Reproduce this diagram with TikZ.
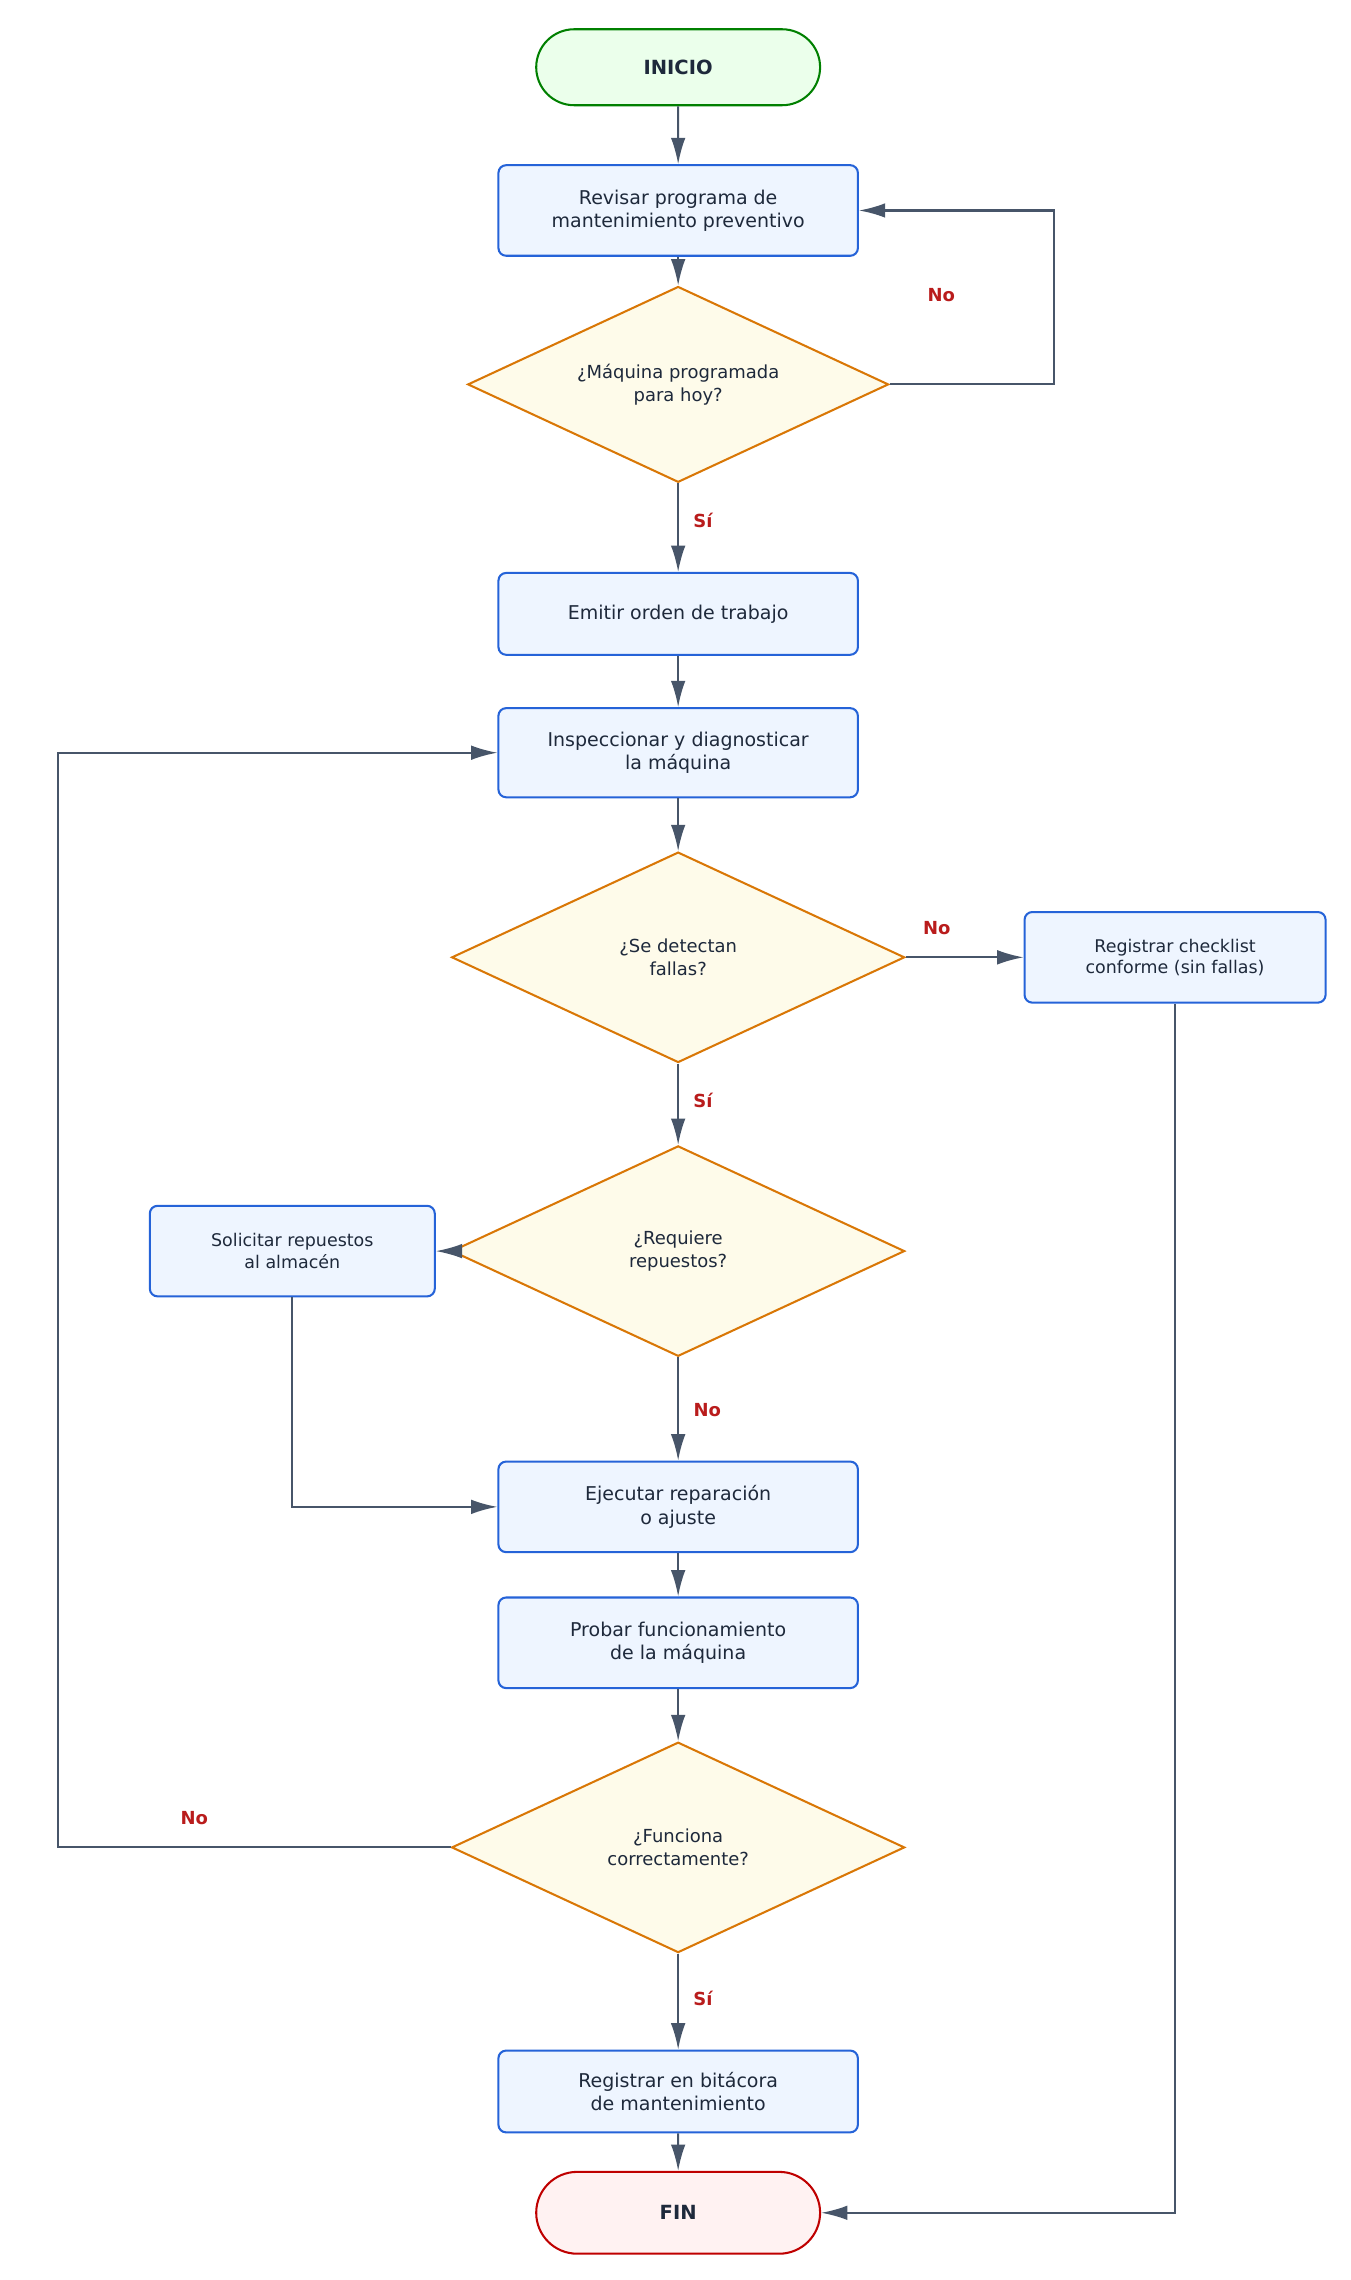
\documentclass[tikz,border=0pt]{standalone}
\usepackage{fontspec}
\setmainfont{DejaVu Sans}
\usepackage{xcolor}
\usetikzlibrary{shapes.geometric,arrows.meta}
\definecolor{boxfill}{HTML}{EEF5FF}
\definecolor{boxline}{HTML}{2563D8}
\definecolor{decfill}{HTML}{FEFBEA}
\definecolor{decline}{HTML}{D97706}
\definecolor{edgecol}{HTML}{475569}
\definecolor{labcol}{HTML}{B91C1C}
\definecolor{txtcol}{HTML}{1E293B}
\tikzset{process/.style={draw=boxline,fill=boxfill,line width=0.8pt,rounded corners=3pt,
        minimum width=4.92cm,align=center,text=txtcol,font=\fontsize{7.4}{9}\selectfont},
    decision/.style={draw=decline,fill=decfill,line width=0.8pt,diamond,aspect=2.15,
        inner sep=0pt,align=center,text=txtcol,font=\fontsize{7}{8.8}\selectfont},
    terminal/.style={rounded rectangle,line width=0.8pt,minimum width=4.12cm,
        font=\bfseries\fontsize{7.6}{9}\selectfont,text=txtcol},
    flow/.style={draw=edgecol,line width=0.8pt,-{Latex[length=0.36cm,width=0.2cm]}},
    answer/.style={text=labcol,font=\bfseries\fontsize{7}{8}\selectfont}}
\usetikzlibrary{shapes.misc}
\begin{document}
\begin{tikzpicture}[x=0.02cm,y=-0.02cm]
    \useasboundingbox (0,0) rectangle (924,1560);
    \node[terminal,draw=green!50!black,fill=green!8,minimum height=1.04cm] (inicio) at (464,46) {INICIO};
    \node[process,minimum height=1.24cm] (revisar) at (464,144) {Revisar programa de\\mantenimiento preventivo};
    \node[decision,minimum width=5.76cm,minimum height=2.68cm] (hoy) at (464,263) {¿Máquina programada\\para hoy?};
    \node[process,minimum height=1.12cm] (emitir) at (464,420) {Emitir orden de trabajo};
    \node[process,minimum height=1.22cm] (inspec) at (464,515) {Inspeccionar y diagnosticar\\la máquina};
    \node[decision,minimum width=6.2cm,minimum height=2.88cm] (fallas) at (464,655) {¿Se detectan\\fallas?};
    \node[process,minimum width=4.12cm,minimum height=1.24cm,font=\fontsize{6.8}{8.4}\selectfont] (checklist) at (804,655) {Registrar checklist\\conforme (sin fallas)};
    \node[decision,minimum width=6.2cm,minimum height=2.88cm] (repuestos) at (464,856) {¿Requiere\\repuestos?};
    \node[process,minimum width=3.9cm,minimum height=1.24cm,font=\fontsize{6.8}{8.4}\selectfont] (solicitar) at (200,856) {Solicitar repuestos\\al almacén};
    \node[process,minimum height=1.24cm] (ejecutar) at (464,1031) {Ejecutar reparación\\o ajuste};
    \node[process,minimum height=1.24cm] (probar) at (464,1124) {Probar funcionamiento\\de la máquina};
    \node[decision,minimum width=6.2cm,minimum height=2.88cm] (funciona) at (464,1264) {¿Funciona\\correctamente?};
    \node[process,minimum height=1.12cm] (bitacora) at (464,1431) {Registrar en bitácora\\de mantenimiento};
    \node[terminal,draw=red!75!black,fill=red!5,minimum height=1.12cm] (fin) at (464,1514) {FIN};

    \draw[flow] (inicio) -- (revisar);
    \draw[flow] (revisar) -- (hoy);
    \draw[flow] (hoy.east) -- (721,263) -- (721,144) -- (revisar.east);
    \node[answer] (no1) at (644,202) {No};
    \draw[flow] (hoy) -- (emitir);
    \node[answer] (si1) at (481,356) {Sí};
    \draw[flow] (emitir) -- (inspec);
    \draw[flow] (inspec) -- (fallas);
    \draw[flow] (fallas) -- (checklist);
    \node[answer] (no2) at (641,635) {No};
    \draw[flow] (fallas) -- (repuestos);
    \node[answer] (si2) at (481,753) {Sí};
    \draw[flow] (repuestos.west) -- (solicitar.east);
    \draw[flow] (repuestos) -- (ejecutar);
    \node[answer] (no3) at (484,965) {No};
    \draw[flow] (solicitar.south) -- (200,1031) -- (ejecutar.west);
    \draw[flow] (ejecutar) -- (probar);
    \draw[flow] (probar) -- (funciona);
    \draw[flow] (funciona.west) -- (40,1264) -- (40,515) -- (inspec.west);
    \node[answer] (no4) at (133,1244) {No};
    \draw[flow] (funciona) -- (bitacora);
    \node[answer] (si3) at (481,1367) {Sí};
    \draw[flow] (bitacora) -- (fin);
    \draw[flow] (checklist.south) -- (804,1514) -- (fin.east);
\end{tikzpicture}
\end{document}
